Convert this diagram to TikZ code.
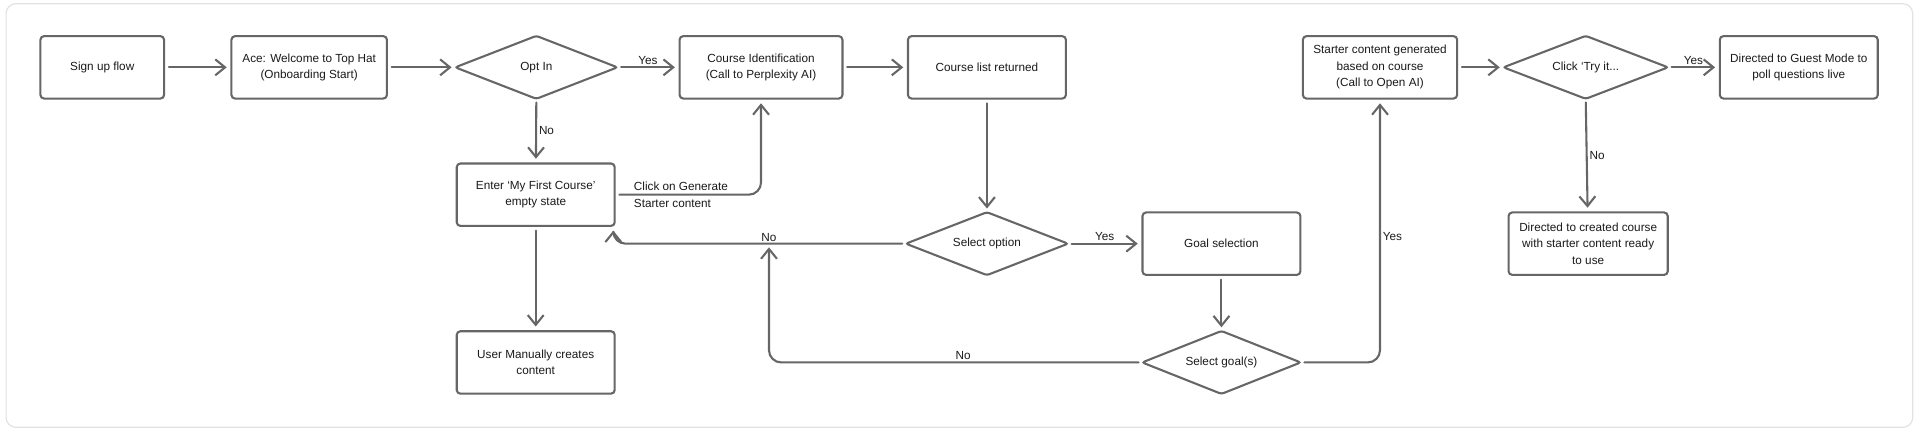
\documentclass[tikz,border=0pt]{standalone}
\usepackage{fontspec}
\setmainfont{Liberation Sans}
\usetikzlibrary{arrows.meta,calc}
\definecolor{flowline}{HTML}{666666}
\definecolor{flowtext}{HTML}{1A1A1A}
\definecolor{framegray}{HTML}{E2E2E2}
\tikzset{
	stepbox/.style={draw=flowline, line width=1.7pt, rounded corners=3pt, fill=white, align=center, inner sep=0pt, minimum width=129pt, minimum height=51pt, text=flowtext},
	choice/.style={inner sep=0pt, minimum width=132pt, minimum height=51pt, align=center, text=flowtext},
	flow/.style={draw=flowline, line width=1.7pt, line cap=round, -{Straight Barb[length=8pt,width=13pt]}, shorten <=3pt, shorten >=3pt, rounded corners=10pt},
	tag/.style={text=flowtext, inner sep=1.5pt}
}

\begin{document}
\begin{tikzpicture}[x=1pt, y=-1pt, every node/.style={font=\fontsize{9.6}{13.5}\selectfont}]
		%%%%% START %%%%%
		\useasboundingbox (0,0) rectangle (1568,355);
		\draw[framegray, line width=1pt, rounded corners=8pt] (5,3) rectangle (1562,349);
		
		\node[stepbox, minimum width=101pt] (signup) at (83.5,55) {Sign up flow};
		\node[stepbox, minimum width=127pt] (welcome) at (252.5,55) {Ace: Welcome to Top Hat\\(Onboarding Start)};
		\node[choice] (optin) at (438,55) {Opt In};
		\node[stepbox, minimum width=133pt] (courseid) at (621.5,55) {Course Identification\\(Call to Perplexity AI)};
		\node[stepbox] (courselist) at (806,55) {Course list returned};
		\node[stepbox, minimum width=126pt] (starter) at (1127,55) {Starter content generated\\based on course\\(Call to Open AI)};
		\node[choice, minimum width=134pt] (tryit) at (1295,55) {Click ‘Try it...};
		\node[stepbox] (guestmode) at (1469,55) {Directed to Guest Mode to\\poll questions live};
		
		\node[stepbox] (firstcourse) at (437.5,159) {Enter ‘My First Course’\\empty state};
		\node[choice] (selectopt) at (806,199) {Select option};
		\node[stepbox] (goalsel) at (997.5,199) {Goal selection};
		\node[stepbox, minimum width=130pt] (created) at (1297,199) {Directed to created course\\with starter content ready\\to use};
		
		\node[stepbox] (manual) at (437.5,296) {User Manually creates\\content};
		\node[choice, minimum width=129pt] (selectgoal) at (997.5,296) {Select goal(s)};
		
		\foreach \d in {optin,tryit,selectopt,selectgoal}
			\draw[flowline, line width=1.7pt, rounded corners=2pt] (\d.west) -- (\d.north) -- (\d.east) -- (\d.south) -- cycle;
		
		\coordinate (loopjoin) at (628,199);
		\coordinate (backin) at ($(firstcourse.south east)+(-2,0)$);
		
		\draw[flow] (signup) -- (welcome);
		\draw[flow] (welcome) -- (optin.west);
		\draw[flow] (optin.east) -- node[tag, above]{Yes} (courseid);
		\draw[flow] (optin.south) -- node[tag, right]{No} (firstcourse);
		\draw[flow] (courseid) -- (courselist);
		\draw[flow] (firstcourse.east) -| (courseid.south);
		\node[tag, anchor=west, align=left] (genlabel) at (516,159) {Click on Generate\\Starter content};
		\draw[flow] (courselist) -- (selectopt.north);
		\draw[flow] (selectopt.west) -| (backin);
		\node[tag, above] (nolabel) at (loopjoin) {No};
		\draw[flow] (selectopt.east) -- node[tag, above]{Yes} (goalsel);
		\draw[flow] (goalsel) -- (selectgoal.north);
		\draw[flow] (selectgoal.west) -| node[tag, above, pos=0.24]{No} (loopjoin);
		\draw[flow] (selectgoal.east) -| node[tag, right, pos=0.74]{Yes} (starter.south);
		\draw[flow] (firstcourse) -- (manual);
		\draw[flow] (starter) -- (tryit.west);
		\draw[flow] (tryit.east) -- node[tag, above]{Yes} (guestmode);
		\draw[flow] (tryit.south) -- node[tag, right]{No} (created);
		
		%%%%% END %%%%%
	\end{tikzpicture}
\end{document}
